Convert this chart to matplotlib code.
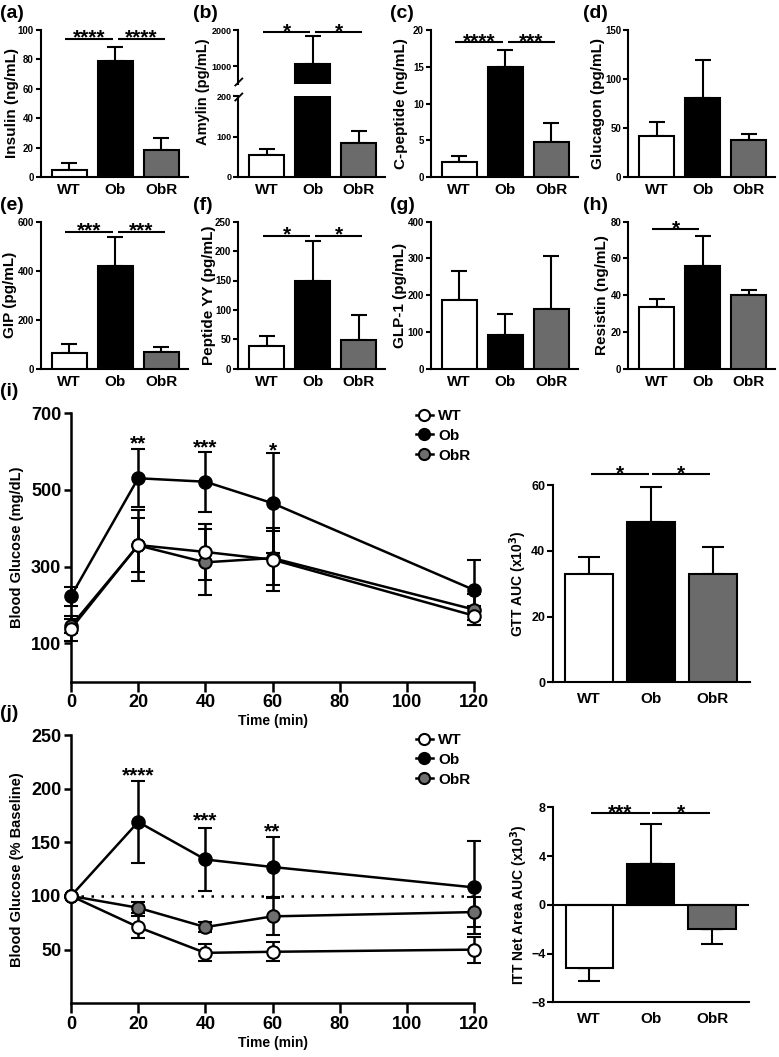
import matplotlib
matplotlib.use('Agg')
import matplotlib.pyplot as plt
from matplotlib.lines import Line2D

plt.rcParams['font.family'] = ['Liberation Sans', 'DejaVu Sans']
plt.rcParams['font.weight'] = 'bold'
plt.rcParams['axes.labelweight'] = 'bold'
plt.rcParams['axes.linewidth'] = 1.5

W, H = 779, 1057
fig = plt.figure(figsize=(W / 100, H / 100), dpi=100)

# ---------------- data ----------------
groups = ['WT', 'Ob', 'ObR']
bar_colors = ['white', 'black', '#6b6b6b']

insulin = [4.8, 78.9, 18.4]
insulin_err = [4.5, 9.3, 7.9]
amylin = [54, 1060, 85]
amylin_err = [15, 780, 28]
cpeptide = [2.1, 15.0, 4.8]
cpeptide_err = [0.75, 2.3, 2.6]
glucagon = [42, 81, 38]
glucagon_err = [14, 38, 6]
gip = [64, 420, 68]
gip_err = [38, 117, 20]
pyy = [38, 150, 49]
pyy_err = [18, 67, 43]
glp1 = [188, 93, 162]
glp1_err = [79, 55, 145]
resistin = [33.5, 56, 40]
resistin_err = [4.3, 16, 2.8]

time_min = [0, 20, 40, 60, 120]
gtt_wt = [138, 356, 338, 318, 172]
gtt_wt_err = [33, 70, 72, 83, 25]
gtt_ob = [223, 530, 521, 465, 239]
gtt_ob_err = [25, 75, 78, 130, 77]
gtt_obr = [145, 355, 311, 322, 188]
gtt_obr_err = [18, 93, 86, 70, 40]
gtt_auc = [32.9, 48.9, 32.9]
gtt_auc_err = [5.4, 10.5, 8.2]

itt_wt = [100, 71, 47, 48, 50]
itt_wt_err = [0, 10, 8, 9, 12]
itt_ob = [100, 169, 134, 127, 108]
itt_ob_err = [0, 38, 29, 28, 43]
itt_obr = [100, 89, 71, 81, 85]
itt_obr_err = [0, 5, 5, 17, 14]
itt_auc = [-5.15, 3.36, -1.95]
itt_auc_err = [1.1, 3.3, 1.25]

gtt_stars = [(20, 636, '**'), (40, 627, '***'), (60, 619, '*')]
itt_stars = [(20, 218, '****'), (40, 176, '***'), (60, 166, '**')]

# ---------------- helpers ----------------
def add_ax(l, t, r, b):
    return fig.add_axes([l / W, 1 - b / H, (r - l) / W, (b - t) / H])


def style(ax, ysize=7, xsize=11, ylen=3.5, xlen=0, xpad=4.5):
    for s in ['top', 'right']:
        ax.spines[s].set_visible(False)
    ax.tick_params(axis='y', length=ylen, width=1.5, labelsize=ysize, pad=1.5)
    ax.tick_params(axis='x', length=xlen, width=1.5, labelsize=xsize, pad=xpad)


def ylab(ax, text, xpx, l, r, size=11, yfrac=0.5):
    ax.set_ylabel(text, fontsize=size, fontweight='bold', ha='center', va='center')
    ax.yaxis.set_label_coords((xpx - l) / (r - l), yfrac)


def bars(ax, vals, errs, width=0.76, capsize=6):
    x = [0, 1, 2]
    ax.bar(x, vals, width=width, color=bar_colors, edgecolor='black', linewidth=1.5, zorder=3)
    ax.errorbar(x, vals, yerr=[[0, 0, 0], errs], fmt='none', ecolor='black',
                elinewidth=1.5, capsize=capsize, capthick=1.5, zorder=2)


def sig(ax, x1, x2, y, text, fs=15, off=-3.6):
    ax.plot([x1, x2], [y, y], color='black', lw=1.5, clip_on=False, solid_capstyle='butt')
    ax.annotate(text, xy=((x1 + x2) / 2, y), xytext=(0, off), textcoords='offset points',
                ha='center', va='baseline', fontsize=fs, fontweight='bold', annotation_clip=False)


def panel_label(x, y, text):
    fig.text(x / W, 1 - y / H, text, fontsize=14, fontweight='bold', ha='left', va='center')


XL = (-0.62, 2.58)
colx = [40.7, 238.3, 430.7, 628.3]
wpx = 147


def small_panel(ci, t, b, vals, errs, ylim, yticks, label, labx, sigs):
    l = colx[ci]
    r = l + wpx
    ax = add_ax(l, t, r, b)
    bars(ax, vals, errs)
    ax.set_xlim(*XL)
    ax.set_ylim(*ylim)
    ax.set_yticks(yticks)
    ax.set_xticks([0, 1, 2])
    ax.set_xticklabels(groups)
    style(ax)
    ylab(ax, label, labx, l, r)
    for (x1, x2, y, s) in sigs:
        sig(ax, x1, x2, y, s)
    return ax

# ---------------- row 1 ----------------
t1, b1 = 30, 177
small_panel(0, t1, b1, insulin, insulin_err, (0, 100), [0, 20, 40, 60, 80, 100],
            'Insulin (ng/mL)', 12, [(-0.1, 0.95, 94, '****'), (1.06, 2.08, 94, '****')])

# (b) broken axis
l, r = colx[1], colx[1] + wpx
axb_lo = add_ax(l, 96, r, b1)
axb_hi = add_ax(l, t1, r, 84)
for ax in (axb_lo, axb_hi):
    bars(ax, amylin, amylin_err)
    ax.set_xlim(*XL)
    style(ax, ysize=6.5)
axb_lo.set_ylim(0, 200)
axb_lo.set_yticks([0, 100, 200])
axb_lo.set_xticks([0, 1, 2])
axb_lo.set_xticklabels(groups)
axb_hi.set_ylim(500, 2000)
axb_hi.set_yticks([1000, 2000])
axb_hi.spines['bottom'].set_visible(False)
axb_hi.set_xticks([])
ylab(axb_lo, 'Amylin (pg/mL)', 203, l, r, size=10.5, yfrac=(177 - 92) / 81)
sig(axb_hi, -0.08, 0.94, 1944, '*')
sig(axb_hi, 1.05, 2.08, 1944, '*')
for yc in (82, 97):
    fig.add_artist(Line2D([(l - 3) / W, (l + 4) / W], [1 - (yc + 3.5) / H, 1 - (yc - 3.5) / H],
                          color='black', lw=1.3))

small_panel(2, t1, b1, cpeptide, cpeptide_err, (0, 20), [0, 5, 10, 15, 20],
            'C-peptide (ng/mL)', 401, [(-0.1, 0.95, 18.3, '****'), (1.06, 2.08, 18.3, '***')])
small_panel(3, t1, b1, glucagon, glucagon_err, (0, 150), [0, 50, 100, 150],
            'Glucagon (pg/mL)', 598, [])

# ---------------- row 2 ----------------
t2, b2 = 221.7, 368.7
small_panel(0, t2, b2, gip, gip_err, (0, 600), [0, 200, 400, 600],
            'GIP (pg/mL)', 10, [(-0.1, 0.95, 559, '***'), (1.06, 2.08, 559, '***')])
small_panel(1, t2, b2, pyy, pyy_err, (0, 250), [0, 50, 100, 150, 200, 250],
            'Peptide YY (pg/mL)', 209, [(-0.08, 0.94, 226, '*'), (1.05, 2.08, 226, '*')])
small_panel(2, t2, b2, glp1, glp1_err, (0, 400), [0, 100, 200, 300, 400],
            'GLP-1 (pg/mL)', 400, [])
small_panel(3, t2, b2, resistin, resistin_err, (0, 80), [0, 20, 40, 60, 80],
            'Resistin (ng/mL)', 602, [(-0.1, 0.92, 75.9, '*')])

# ---------------- line panels ----------------
obr_gray = '#6e6e6e'


def line_panel(t, b, wt, wte, ob, obe, obr, obre, ylim, yticks, ylabel, stars, dotted=False, legtop=0):
    l, r = 71, 474
    ax = add_ax(l, t, r, b)
    if dotted:
        ax.plot([0, 120], [100, 100], color='black', lw=1.8, ls=(0, (1, 3)), zorder=1)
    for vals, errs, fc in [(ob, obe, 'black'), (obr, obre, obr_gray), (wt, wte, 'white')]:
        ax.errorbar(time_min, vals, yerr=errs, fmt='-o', color='black', mfc=fc, mec='black',
                    mew=1.5, ms=9, lw=1.8, elinewidth=1.8, capsize=4.8, capthick=1.8,
                    clip_on=False, zorder=3)
    ax.set_xlim(0, 120)
    ax.set_ylim(*ylim)
    ax.set_yticks(yticks)
    ax.set_xticks(range(0, 121, 20))
    for s in ['top', 'right']:
        ax.spines[s].set_visible(False)
    ax.spines['left'].set_linewidth(1.8)
    ax.spines['bottom'].set_linewidth(1.8)
    ax.tick_params(axis='y', length=5, width=1.8, labelsize=13, pad=2)
    ax.tick_params(axis='x', length=7, width=1.8, labelsize=13, pad=2)
    ax.set_xlabel('Time (min)', fontsize=10, fontweight='bold', labelpad=2)
    ylab(ax, ylabel, 17, l, r, size=10.5)
    for (tx, ty, s) in stars:
        ax.annotate(s, xy=(tx, ty), xytext=(0, -8.6), textcoords='offset points',
                    ha='center', va='baseline', fontsize=15, fontweight='bold')
    handles = [Line2D([], [], color='black', lw=1.8, marker='o', ms=8, mfc=fc, mec='black', mew=1.5)
               for fc in ['white', 'black', obr_gray]]
    fig.legend(handles, groups, loc='upper left', bbox_to_anchor=(416 / W, 1 - legtop / H),
               bbox_transform=fig.transFigure, frameon=False, fontsize=11,
               handlelength=1.1, handletextpad=0.35, labelspacing=0.38, borderpad=0,
               borderaxespad=0)
    return ax


line_panel(413, 681.7, gtt_wt, gtt_wt_err, gtt_ob, gtt_ob_err, gtt_obr, gtt_obr_err,
           (0, 700), [100, 300, 500, 700], 'Blood Glucose (mg/dL)', gtt_stars, legtop=409)
line_panel(735, 1003.3, itt_wt, itt_wt_err, itt_ob, itt_ob_err, itt_obr, itt_obr_err,
           (0, 250), [50, 100, 150, 200, 250], 'Blood Glucose (% Baseline)', itt_stars,
           dotted=True, legtop=733)

# ---------------- AUC bars ----------------
XL2 = (-0.585, 2.6)

l, r = 552.7, 750
ax = add_ax(l, 485.3, r, 682.3)
bars(ax, gtt_auc, gtt_auc_err, width=0.77, capsize=8)
ax.set_xlim(*XL2)
ax.set_ylim(0, 60)
ax.set_yticks([0, 20, 40, 60])
ax.set_xticks([0, 1, 2])
ax.set_xticklabels(groups)
style(ax, ysize=9, xsize=11, ylen=4, xpad=7)
ylab(ax, 'GTT AUC (x10$^{\\mathbf{3}}$)', 518, l, r, size=10)
sig(ax, 0.03, 0.97, 63.4, '*')
sig(ax, 1.01, 1.95, 63.4, '*')

l, r = 553.3, 749
ax = add_ax(l, 807.3, r, 1002.3)
bars(ax, itt_auc, [0, 0, 0], width=0.77, capsize=8)
ax.errorbar([0, 2], [itt_auc[0], itt_auc[2]], yerr=[[itt_auc_err[0], itt_auc_err[2]], [0, 0]],
            fmt='none', ecolor='black', elinewidth=1.5, capsize=8, capthick=1.5, zorder=2)
ax.errorbar([1], [itt_auc[1]], yerr=[[0], [itt_auc_err[1]]],
            fmt='none', ecolor='black', elinewidth=1.5, capsize=8, capthick=1.5, zorder=2)
ax.axhline(0, color='black', lw=1.5, zorder=4)
ax.set_xlim(*XL2)
ax.set_ylim(-8, 8)
ax.set_yticks([-8, -4, 0, 4, 8])
ax.set_xticks([0, 1, 2])
ax.set_xticklabels(groups)
style(ax, ysize=9, xsize=11, ylen=4, xpad=7)
ylab(ax, 'ITT Net Area AUC (x10$^{\\mathbf{3}}$)', 519, l, r, size=10)
sig(ax, 0.03, 0.99, 7.53, '***')
sig(ax, 1.02, 1.97, 7.53, '*')

# ---------------- panel labels ----------------
for (x, y, s) in [(0, 13, '(a)'), (193, 13, '(b)'), (390, 13, '(c)'), (583, 13, '(d)'),
                  (0, 205, '(e)'), (193, 205, '(f)'), (390, 205, '(g)'), (583, 205, '(h)'),
                  (0, 392, '(i)'), (0, 713, '(j)')]:
    panel_label(x, y, s)

fig.savefig('out.png', dpi=100)
